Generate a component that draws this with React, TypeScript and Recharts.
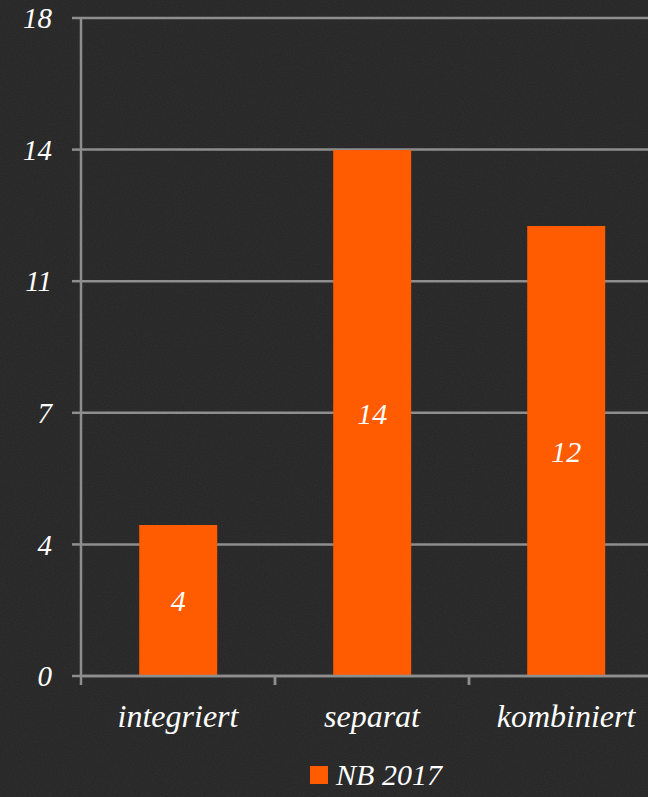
import { BarChart, Bar, XAxis, YAxis, CartesianGrid, Legend, LabelList } from "recharts";

const categories = ["integriert", "separat", "kombiniert"];
const nb2017 = [4.13, 14.39, 12.31];
const yTicks = [0, 3.6, 7.2, 10.8, 14.4, 18];

const data = categories.map((name, i) => ({ name, nb2017: nb2017[i] }));

const font = "'Liberation Serif', 'DejaVu Serif', serif";
const grid = "#8e8e8e";
const orange = "#FF5B00";

function CategoryTick(props: any) {
  const { x, y, payload } = props;
  const half = payload && payload.offset ? payload.offset : 97;
  return (
    <g>
      <line x1={x - half} y1={y} x2={x - half} y2={y + 9} stroke={grid} strokeWidth={2.5} />
      <line x1={x + half} y1={y} x2={x + half} y2={y + 9} stroke={grid} strokeWidth={2.5} />
      <text x={x} y={y + 51} textAnchor="middle" fill="#ffffff" fontFamily={font} fontStyle="italic" fontSize={32}>
        {payload.value}
      </text>
    </g>
  );
}

function LegendContent() {
  return (
    <div style={{ display: "flex", justifyContent: "center", alignItems: "center", fontFamily: font, fontStyle: "italic", fontSize: 30, color: "#fff", lineHeight: "32px" }}>
      <span style={{ width: 18, height: 18, background: orange, marginRight: 8, display: "inline-block" }}></span>
      <span>NB 2017</span>
    </div>
  );
}

export default function App() {
  return (
    <div style={{ position: "absolute", left: 0, top: 0, width: 648, height: 797, overflow: "hidden", background: "#242424" }}>
      <svg width={648} height={797} style={{ position: "absolute", left: 0, top: 0 }}>
        <filter id="grain">
          <feTurbulence type="fractalNoise" baseFrequency="0.9" numOctaves={2} seed={3} />
          <feColorMatrix type="matrix" values="0 0 0 0 0.45  0 0 0 0 0.45  0 0 0 0 0.45  0 0 0 0.09 0" />
        </filter>
        <rect width={648} height={797} filter="url(#grain)" />
      </svg>
      <BarChart width={663} height={797} data={data} margin={{ top: 18, right: 0, left: 0, bottom: 0 }} barCategoryGap="30%">
        <CartesianGrid vertical={false} stroke={grid} strokeWidth={2.5} />
        <XAxis
          dataKey="name"
          height={83}
          axisLine={{ stroke: grid, strokeWidth: 2.5 }}
          tickLine={false}
          tickSize={0}
          tickMargin={0}
          tick={<CategoryTick />}
          interval={0}
        />
        <YAxis
          width={81}
          domain={[0, 18]}
          ticks={yTicks}
          tickFormatter={(v: number) => String(Math.round(v))}
          axisLine={{ stroke: grid, strokeWidth: 2.5 }}
          tickLine={{ stroke: grid, strokeWidth: 2.5 }}
          tickSize={9}
          tickMargin={20}
          tick={{ fill: "#ffffff", fontFamily: font, fontStyle: "italic", fontSize: 29 }}
        />
        <Legend verticalAlign="bottom" height={38} wrapperStyle={{ left: 81, width: 590, bottom: 0 }} content={<LegendContent />} />
        <Bar dataKey="nb2017" name="NB 2017" fill={orange} isAnimationActive={false}>
          <LabelList
            dataKey="nb2017"
            position="center"
            formatter={(v: any) => String(Math.round(Number(v)))}
            fill="#ffffff"
            fontFamily={font}
            fontStyle="italic"
            fontSize={30}
          />
        </Bar>
      </BarChart>
    </div>
  );
}
